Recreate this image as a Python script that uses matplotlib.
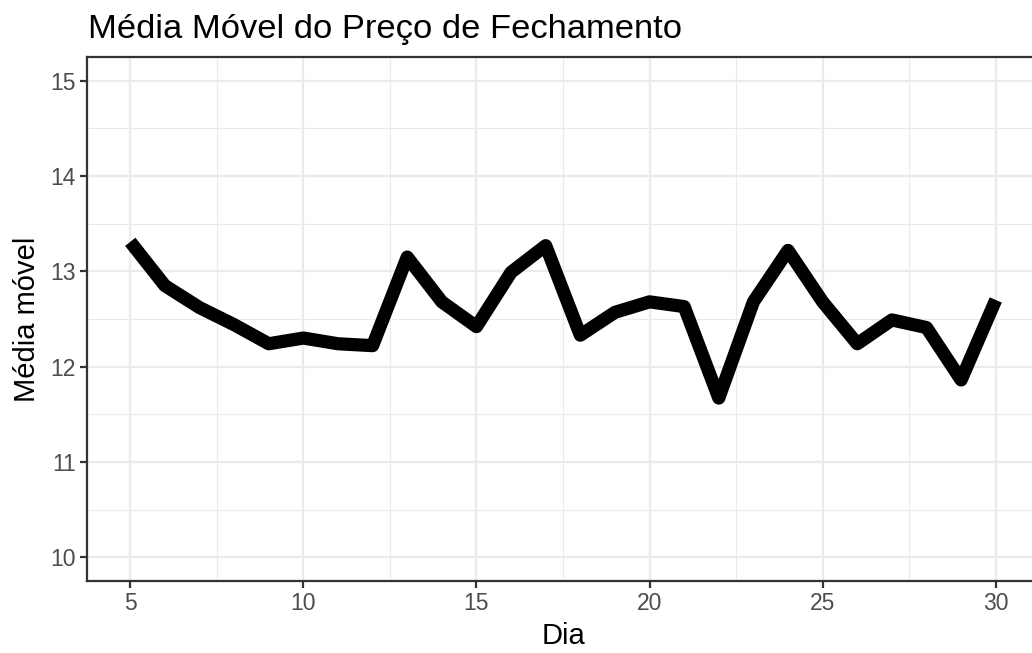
import matplotlib
matplotlib.use("Agg")
import matplotlib.pyplot as plt
from matplotlib.ticker import MultipleLocator

plt.rcParams["font.family"] = ["Liberation Sans", "DejaVu Sans"]

# media movel do preco de fechamento (dias 5 a 30)
dias = list(range(5, 31))
media_movel = [13.31, 12.85, 12.62, 12.44, 12.24, 12.30, 12.24, 12.22, 13.15,
               12.68, 12.42, 12.99, 13.27, 12.33, 12.57, 12.68, 12.63, 11.67,
               12.68, 13.22, 12.68, 12.24, 12.49, 12.41, 11.86, 12.70]

titulo = "Média Móvel do Preço de Fechamento"
rotulo_x = "Dia"
rotulo_y = "Média móvel"

fig = plt.figure(figsize=(10.32, 6.53), dpi=100)
# panel runs past the right edge, like the original
ax = fig.add_axes([0.0843, 0.1103, 0.9225, 0.8024])

ax.plot(dias, media_movel, color="black", linewidth=9.5,
        solid_joinstyle="round", solid_capstyle="butt", zorder=3)

ax.set_xlim(3.75, 31.25)
ax.set_ylim(9.75, 15.25)
ax.xaxis.set_major_locator(MultipleLocator(5))
ax.xaxis.set_minor_locator(MultipleLocator(2.5))
ax.yaxis.set_major_locator(MultipleLocator(1))
ax.yaxis.set_minor_locator(MultipleLocator(0.5))

ax.grid(which="major", color="#EBEBEB", linewidth=1.6, zorder=0)
ax.grid(which="minor", color="#EBEBEB", linewidth=0.8, zorder=0)
ax.set_axisbelow(True)

for s in ax.spines.values():
    s.set_color("#333333")
    s.set_linewidth(1.6)

ax.tick_params(which="major", length=5, width=1.6, color="#333333",
               labelcolor="#4D4D4D", labelsize=16.5, pad=3)
ax.tick_params(which="minor", length=0)

ax.set_xlabel(rotulo_x, fontsize=21, color="black", labelpad=5)
ax.set_ylabel(rotulo_y, fontsize=21, color="black", labelpad=7)
fig.text(0.0853, 0.9418, titulo, fontsize=24.8, color="black", ha="left", va="baseline")

fig.savefig("out.png", dpi=100)
